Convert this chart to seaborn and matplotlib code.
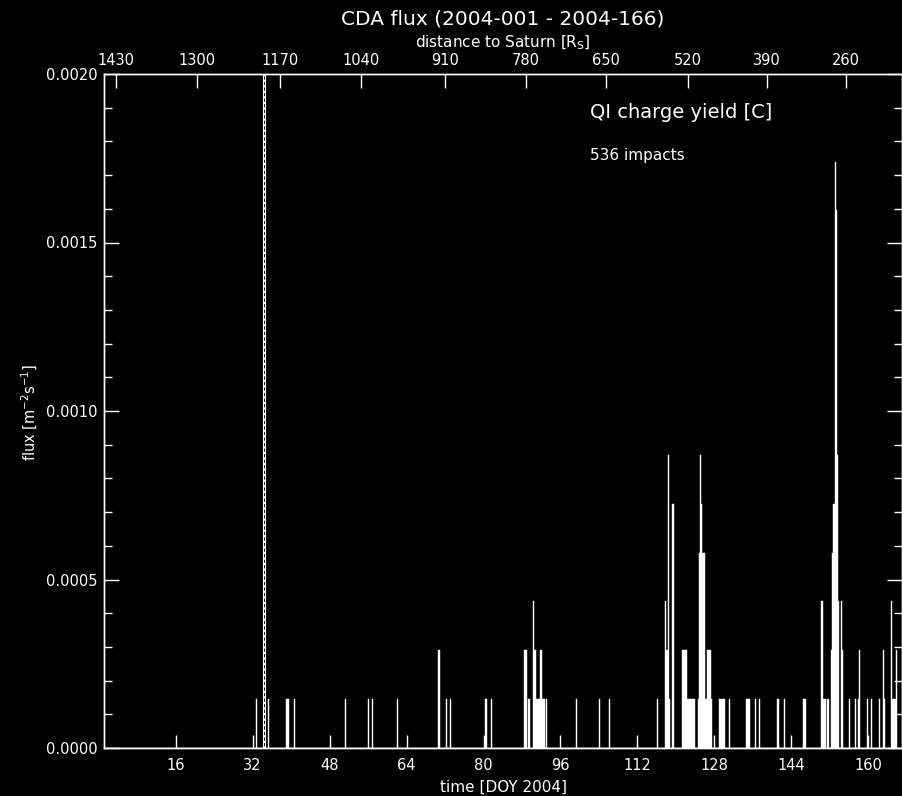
import numpy as np
import pandas as pd
import matplotlib
matplotlib.use("Agg")
import matplotlib.pyplot as plt
from matplotlib.ticker import MultipleLocator, FormatStrFormatter
import seaborn as sns

# impacts per time bin (bin start, DOY 2004) and count in that bin
impact_doy = [32.75, 35.25, 39.0, 39.25, 40.5, 51.25, 56.0, 56.75, 62.0,
              70.5, 70.75, 72.25, 73.0,
              80.25, 80.5, 81.5,
              88.5, 88.75, 89.25, 89.5,
              90.25, 90.5, 90.75, 91.0, 91.25, 91.5, 91.75, 92.0, 92.25, 92.5, 93.0,
              99.25, 104.0, 106.0, 116.0,
              117.75, 118.0, 118.25, 118.5, 119.25,
              121.25, 121.5, 121.75, 122.0, 122.25, 122.5, 122.75, 123.0, 123.25, 123.5, 123.75,
              124.5, 124.75, 125.0, 125.25, 125.5, 125.75, 126.0, 126.25, 126.5, 126.75, 127.0, 127.25,
              129.0, 129.25, 129.5, 129.75, 130.0, 131.0,
              134.5, 134.75, 135.0, 135.25, 136.5, 137.25,
              141.0, 141.25, 142.5, 146.5, 146.75,
              150.25, 150.5, 150.75, 151.0, 151.5, 152.25, 152.5, 152.75,
              153.0, 153.25, 153.5, 153.75, 154.25, 154.5,
              156.0, 157.25, 157.75, 158.0, 159.75, 160.5, 162.25, 163.0, 163.25,
              164.75, 165.0, 165.25, 165.5, 165.75]
impact_count = [1, 1, 1, 1, 1, 1, 1, 1, 1,
                2, 2, 1, 1,
                1, 1, 1,
                2, 2, 1, 1,
                3, 2, 2, 1, 1, 1, 2, 2, 1, 1, 1,
                1, 1, 1, 1,
                3, 2, 6, 1, 5,
                2, 2, 2, 2, 1, 1, 1, 1, 1, 1, 1,
                1, 4, 6, 5, 4, 4, 1, 1, 2, 2, 2, 1,
                1, 1, 1, 1, 1, 1,
                1, 1, 1, 1, 1, 1,
                1, 1, 1, 1, 1,
                3, 1, 1, 1, 1, 2, 4, 5,
                12, 11, 6, 3, 3, 2,
                1, 1, 1, 2, 1, 1, 1, 2, 1,
                3, 1, 1, 1, 2]
flux_per_impact = 1.45e-4

# distance to Saturn [Rs] and the DOY where it is reached
dist_labels = [1430, 1300, 1170, 1040, 910, 780, 650, 520, 390, 260]
dist_doy = [3.53, 20.51, 37.67, 54.59, 71.96, 88.87, 105.50, 122.45, 138.95, 155.37]

day_ticks = [16, 32, 48, 64, 80, 96, 112, 128, 144, 160]
marker_doy = 34.35

df = pd.DataFrame({"doy": impact_doy,
                   "flux": np.array(impact_count) * flux_per_impact})

sns.set_theme(style="ticks", rc={
    "figure.facecolor": "black", "axes.facecolor": "black",
    "axes.edgecolor": "white", "axes.labelcolor": "white",
    "text.color": "white", "xtick.color": "white", "ytick.color": "white",
    "axes.linewidth": 1.0,
})
plt.rcParams["font.family"] = ["DejaVu Sans"]

fig = plt.figure(figsize=(9.02, 7.96), dpi=100)
ax = fig.add_axes([103.5 / 902, 48 / 796, (902 - 103.5) / 902, 674 / 796])

sns.histplot(data=df, x="doy", weights="flux", binwidth=0.25, binrange=(1, 167),
             element="bars", fill=True, color="white", edgecolor="white",
             linewidth=0.3, alpha=1, ax=ax)

ax.axvline(marker_doy - 0.27, color="white", lw=0.8)
ax.axvline(marker_doy + 0.27, color="white", lw=0.8)
ax.axvline(marker_doy, color="white", lw=0.8, dashes=(2, 3))

ax.set_xlim(1, 167)
ax.set_ylim(0, 0.002)
ax.set_xlabel("")
ax.set_ylabel("")

ax.set_xticks(day_ticks)
ax.set_xticklabels([str(d) for d in day_ticks], fontsize=10.5)
ax.yaxis.set_major_locator(MultipleLocator(0.0005))
ax.yaxis.set_minor_locator(MultipleLocator(0.0001))
ax.yaxis.set_major_formatter(FormatStrFormatter("%.4f"))
ax.tick_params(axis="x", which="major", direction="in", length=9.5, width=1,
               pad=7, labelsize=10.5, top=False)
ax.tick_params(axis="y", which="major", direction="in", length=11, width=1,
               pad=4.5, labelsize=10.5, right=True)
ax.tick_params(axis="y", which="minor", direction="in", length=6, width=1, right=True)
for s in ax.spines.values():
    s.set_color("white")

top = ax.twiny()
top.set_xlim(ax.get_xlim())
top.set_xticks(dist_doy)
top.set_xticklabels([str(d) for d in dist_labels], fontsize=10.5)
top.tick_params(axis="x", direction="in", length=10, width=1, pad=4, colors="white")

fig.text(503 / 902, 1 - 19 / 796, "CDA flux (2004-001 - 2004-166)",
         ha="center", va="center", fontsize=14.5)
fig.text(503 / 902, 1 - 43 / 796, r"distance to Saturn [R$_\mathrm{S}$]",
         ha="center", va="center", fontsize=11)
fig.text(503 / 902, 1 - 787 / 796, "time [DOY 2004]",
         ha="center", va="center", fontsize=11)
fig.text(30 / 902, 1 - 412 / 796, r"flux [m$^{-2}$s$^{-1}$]",
         ha="center", va="center", rotation=90, fontsize=10.5)

ax.text(0.609, 0.9436, "QI charge yield [C]", transform=ax.transAxes,
        ha="left", va="center", fontsize=14)
ax.text(0.609, 0.8798, "536 impacts", transform=ax.transAxes,
        ha="left", va="center", fontsize=11)

fig.savefig("out.png", dpi=100, facecolor="black")
